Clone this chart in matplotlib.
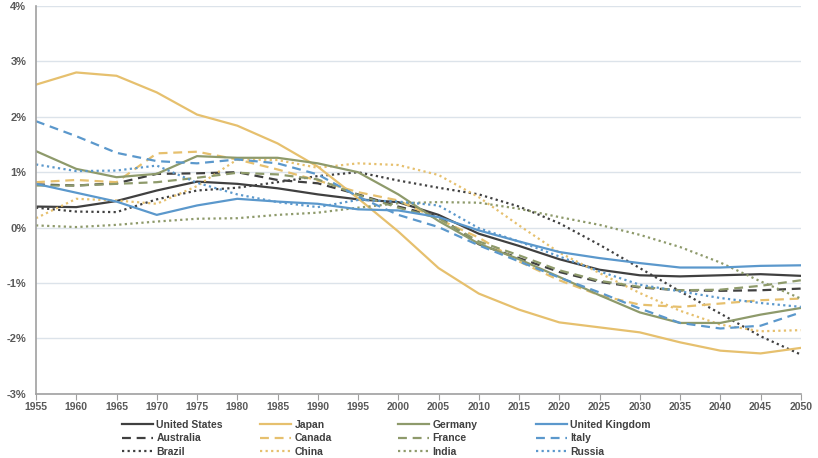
#population growth rates, estimates and projections
import matplotlib
matplotlib.use("Agg")
import matplotlib.pyplot as plt
from matplotlib.ticker import FuncFormatter

plt.rcParams['font.family'] = ['Liberation Sans', 'DejaVu Sans']

years = list(range(1955, 2051, 5))

united_states = [0.38, 0.37, 0.48, 0.67, 0.83, 0.79, 0.71, 0.60, 0.51, 0.46, 0.23, -0.11, -0.33, -0.57, -0.76, -0.86, -0.88, -0.86, -0.84, -0.87]
japan = [2.58, 2.80, 2.74, 2.44, 2.04, 1.84, 1.52, 1.10, 0.53, -0.07, -0.73, -1.19, -1.48, -1.71, -1.80, -1.89, -2.07, -2.22, -2.27, -2.17]
germany = [1.38, 1.06, 0.91, 0.97, 1.29, 1.26, 1.26, 1.16, 1.00, 0.60, 0.12, -0.29, -0.57, -0.89, -1.22, -1.53, -1.72, -1.72, -1.57, -1.45]
united_kingdom = [0.79, 0.63, 0.47, 0.23, 0.40, 0.52, 0.47, 0.43, 0.33, 0.31, 0.19, -0.05, -0.25, -0.44, -0.55, -0.64, -0.72, -0.72, -0.69, -0.68]
australia = [0.78, 0.76, 0.80, 0.97, 0.98, 1.00, 0.86, 0.80, 0.60, 0.38, 0.20, -0.30, -0.55, -0.80, -0.98, -1.08, -1.13, -1.14, -1.13, -1.10]
canada = [0.82, 0.86, 0.82, 1.34, 1.37, 1.23, 1.05, 0.85, 0.64, 0.49, 0.15, -0.18, -0.61, -0.95, -1.22, -1.39, -1.43, -1.37, -1.31, -1.28]
france = [0.76, 0.76, 0.79, 0.82, 0.90, 0.99, 0.96, 0.87, 0.59, 0.36, 0.17, -0.25, -0.50, -0.77, -0.96, -1.07, -1.13, -1.12, -1.05, -0.95]
italy = [1.92, 1.65, 1.35, 1.20, 1.16, 1.23, 1.16, 0.96, 0.56, 0.23, 0.01, -0.32, -0.61, -0.90, -1.17, -1.46, -1.72, -1.82, -1.77, -1.53]
brazil = [0.36, 0.29, 0.28, 0.51, 0.67, 0.72, 0.82, 0.93, 1.00, 0.85, 0.72, 0.60, 0.38, 0.08, -0.31, -0.73, -1.15, -1.55, -1.96, -2.29]
china = [0.17, 0.52, 0.49, 0.43, 0.75, 1.23, 1.22, 1.08, 1.16, 1.13, 0.95, 0.55, 0.04, -0.45, -0.82, -1.18, -1.50, -1.75, -1.87, -1.85]
india = [0.04, 0.01, 0.05, 0.11, 0.16, 0.17, 0.23, 0.27, 0.36, 0.44, 0.46, 0.45, 0.34, 0.19, 0.05, -0.13, -0.35, -0.63, -0.97, -1.28]
russia = [1.14, 1.02, 1.03, 1.12, 0.81, 0.60, 0.46, 0.37, 0.50, 0.47, 0.40, -0.01, -0.25, -0.52, -0.79, -1.03, -1.15, -1.27, -1.36, -1.43]

dark = '#404040'
gold = '#e6c06e'
olive = '#8e9a6b'
blue = '#5b98cc'

dash = (0, (4, 2.6))
dot = (0, (1, 1.5))

# one legend column per colour
groups = [
    (dark, ["United States", "Australia", "Brazil"], [united_states, australia, brazil]),
    (gold, ["Japan", "Canada", "China"], [japan, canada, china]),
    (olive, ["Germany", "France", "India"], [germany, france, india]),
    (blue, ["United Kingdom", "Italy", "Russia"], [united_kingdom, italy, russia]),
]
styles = ['-', dash, dot]

fig = plt.figure(figsize=(8.18, 4.58), dpi=100)
ax = fig.add_axes([0.044, 0.140, 0.935, 0.847])

handles = []
for col, names, data in groups:
    hs = []
    for name, vals, ls in zip(names, data, styles):
        l, = ax.plot(years, vals, color=col, linestyle=ls, linewidth=1.6, label=name)
        hs.append(l)
    handles.append((hs, names))

ax.set_xlim(1955, 2050)
ax.set_ylim(-3, 4)
ax.set_xticks(years)
ax.set_yticks(range(-3, 5))
ax.yaxis.set_major_formatter(FuncFormatter(lambda v, p: "%d%%" % v))
ax.grid(axis='y', color='#dce3ea', linewidth=1)
ax.set_axisbelow(True)

for s in ['top', 'right']:
    ax.spines[s].set_visible(False)
for s in ['left', 'bottom']:
    ax.spines[s].set_color('#a0a0a0')
    ax.spines[s].set_linewidth(1.2)

ax.tick_params(axis='y', length=0, pad=7, labelsize=8, labelcolor='#595959')
ax.tick_params(axis='x', length=4, color='#a0a0a0', pad=2, labelsize=7.5, labelcolor='#595959')
for t in ax.get_xticklabels() + ax.get_yticklabels():
    t.set_fontweight('bold')

col_x = [122, 260, 398, 536]
for (hs, names), x in zip(handles, col_x):
    leg = fig.legend(hs, names, loc='upper left', bbox_to_anchor=(x / 818, 0.084),
                     frameon=False, handlelength=3.0, handletextpad=0.3,
                     labelspacing=0.35, borderpad=0, borderaxespad=0,
                     prop={'size': 7.5, 'weight': 'bold'})
    for t in leg.get_texts():
        t.set_color(dark)

plt.savefig("out.png", dpi=100)
